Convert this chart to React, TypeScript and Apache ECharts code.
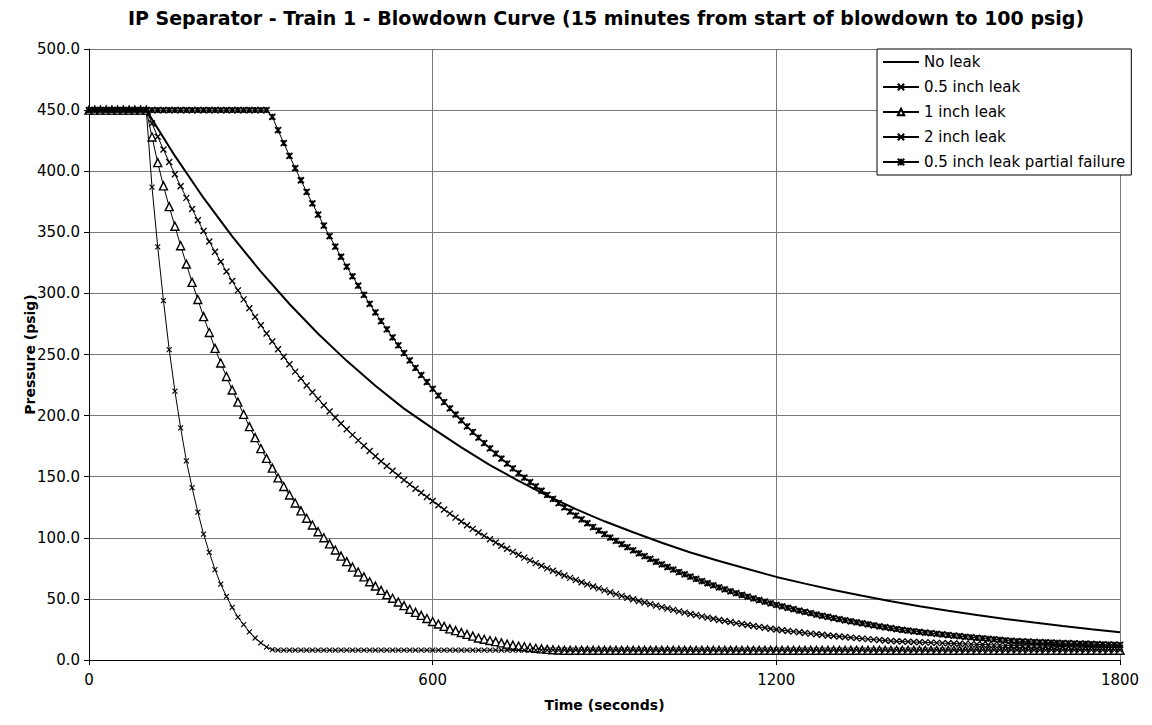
import React, { useEffect, useRef } from "react";
import * as echarts from "echarts";

const TITLE = "IP Separator - Train 1 - Blowdown Curve (15 minutes from start of blowdown to 100 psig)";
const X_NAME = "Time (seconds)";
const Y_NAME = "Pressure (psig)";
const SERIES_NAMES = ["No leak", "0.5 inch leak", "1 inch leak", "2 inch leak", "0.5 inch leak partial failure"];

const X_TICKS = { min: 0, max: 1800, interval: 600 };
const Y_TICKS = { min: 0, max: 500, interval: 50 };

// sample times (seconds) for the marked series
const TIME_S = [
  0, 10, 20, 30, 40, 50, 60, 70, 80, 90,
  100, 110, 120, 130, 140, 150, 160, 170, 180, 190,
  200, 210, 220, 230, 240, 250, 260, 270, 280, 290,
  300, 310, 320, 330, 340, 350, 360, 370, 380, 390,
  400, 410, 420, 430, 440, 450, 460, 470, 480, 490,
  500, 510, 520, 530, 540, 550, 560, 570, 580, 590,
  600, 610, 620, 630, 640, 650, 660, 670, 680, 690,
  700, 710, 720, 730, 740, 750, 760, 770, 780, 790,
  800, 810, 820, 830, 840, 850, 860, 870, 880, 890,
  900, 910, 920, 930, 940, 950, 960, 970, 980, 990,
  1000, 1010, 1020, 1030, 1040, 1050, 1060, 1070, 1080, 1090,
  1100, 1110, 1120, 1130, 1140, 1150, 1160, 1170, 1180, 1190,
  1200, 1210, 1220, 1230, 1240, 1250, 1260, 1270, 1280, 1290,
  1300, 1310, 1320, 1330, 1340, 1350, 1360, 1370, 1380, 1390,
  1400, 1410, 1420, 1430, 1440, 1450, 1460, 1470, 1480, 1490,
  1500, 1510, 1520, 1530, 1540, 1550, 1560, 1570, 1580, 1590,
  1600, 1610, 1620, 1630, 1640, 1650, 1660, 1670, 1680, 1690,
  1700, 1710, 1720, 1730, 1740, 1750, 1760, 1770, 1780, 1790,
  1800,
];

// "No leak" curve, sampled every 50 s
const NO_LEAK_TIME = [
  0, 50, 100, 150, 200, 250, 300, 350, 400, 450,
  500, 550, 600, 650, 700, 750, 800, 850, 900, 950,
  1000, 1050, 1100, 1150, 1200, 1250, 1300, 1350, 1400, 1450,
  1500, 1550, 1600, 1650, 1700, 1750, 1800,
];
const NO_LEAK = [
  450, 450, 450, 412.5, 378.1, 346.6, 317.8, 291.3, 267.0, 244.8,
  224.4, 205.7, 189.5, 174.0, 159.5, 146.5, 134.5, 123.5, 113.5, 104.5,
  96.0, 88.0, 81.0, 74.5, 68.0, 62.5, 57.3, 52.5, 48.0, 44.0,
  40.3, 36.8, 33.6, 30.6, 27.8, 25.2, 22.8,
];

const LEAK_05 = [
  450, 450, 450, 450, 450, 450, 450, 450, 450, 450,
  450, 439.0, 428.2, 417.7, 407.5, 397.5, 387.7, 378.2, 369.0, 359.9,
  351.1, 342.5, 334.1, 325.9, 317.9, 310.1, 302.5, 295.1, 287.9, 280.8,
  273.9, 267.2, 260.7, 254.3, 248.1, 242.0, 236.0, 230.3, 224.6, 219.1,
  213.7, 208.5, 203.4, 198.4, 193.5, 188.8, 184.2, 179.7, 175.3, 171.0,
  166.8, 162.7, 158.7, 154.8, 151.0, 147.3, 143.7, 140.2, 136.8, 133.4,
  130.1, 126.6, 123.1, 119.8, 116.5, 113.4, 110.3, 107.3, 104.4, 101.6,
  98.8, 96.1, 93.5, 91.0, 88.5, 86.1, 83.8, 81.5, 79.3, 77.1,
  75.0, 73.0, 71.0, 69.1, 67.2, 65.4, 63.6, 61.9, 60.2, 58.6,
  57.0, 55.4, 53.9, 52.5, 51.0, 49.7, 48.3, 47.0, 45.7, 44.5,
  43.3, 42.1, 41.0, 39.8, 38.8, 37.7, 36.7, 35.7, 34.7, 33.8,
  32.8, 31.9, 31.1, 30.2, 29.4, 28.6, 27.8, 27.1, 26.4, 25.6,
  24.9, 24.3, 23.8, 23.2, 22.7, 22.1, 21.6, 21.1, 20.6, 20.1,
  19.7, 19.2, 18.8, 18.3, 17.9, 17.5, 17.1, 16.7, 16.3, 15.9,
  15.5, 15.3, 15.1, 14.9, 14.7, 14.5, 14.4, 14.2, 14.0, 13.8,
  13.7, 13.5, 13.3, 13.2, 13.0, 12.8, 12.7, 12.5, 12.4, 12.2,
  12.0, 11.9, 11.8, 11.7, 11.6, 11.5, 11.4, 11.3, 11.2, 11.1,
  11.0, 10.9, 10.8, 10.7, 10.6, 10.5, 10.4, 10.3, 10.2, 10.1,
  10.0,
];

const LEAK_1 = [
  450, 450, 450, 450, 450, 450, 450, 450, 450, 450,
  450, 428, 407, 388, 371, 355, 339, 324, 309, 295,
  281, 268, 255, 243, 232, 221, 211, 201, 191, 182,
  173, 165, 157, 149, 142, 135, 128.5, 122, 116, 110.5,
  105, 100, 95, 90, 85, 80.5, 76, 72, 68, 64,
  60.5, 57, 53.5, 50.5, 47.5, 44.5, 41.5, 39, 36.5, 34,
  31.5, 29.5, 27.5, 25.5, 24, 22.5, 21, 19.5, 18, 17,
  16, 15, 14, 13, 12.2, 11.5, 10.8, 10.2, 9.6, 9.1,
  8.7, 8.4, 8.2, 8, 8, 8, 8, 8, 8, 8,
  8, 8, 8, 8, 8, 8, 8, 8, 8, 8,
  8, 8, 8, 8, 8, 8, 8, 8, 8, 8,
  8, 8, 8, 8, 8, 8, 8, 8, 8, 8,
  8, 8, 8, 8, 8, 8, 8, 8, 8, 8,
  8, 8, 8, 8, 8, 8, 8, 8, 8, 8,
  8, 8, 8, 8, 8, 8, 8, 8, 8, 8,
  8, 8, 8, 8, 8, 8, 8, 8, 8, 8,
  8, 8, 8, 8, 8, 8, 8, 8, 8, 8,
  8, 8, 8, 8, 8, 8, 8, 8, 8, 8,
  8,
];

const LEAK_2 = [
  450, 450, 450, 450, 450, 450, 450, 450, 450, 450,
  450, 387, 338, 294, 254, 220, 190, 163, 141, 121,
  103, 88, 74, 62, 52, 43, 35, 29, 23, 18,
  14, 10.5, 8.5, 8, 8, 8, 8, 8, 8, 8,
  8, 8, 8, 8, 8, 8, 8, 8, 8, 8,
  8, 8, 8, 8, 8, 8, 8, 8, 8, 8,
  8, 8, 8, 8, 8, 8, 8, 8, 8, 8,
  8, 8, 8, 8, 8, 8, 8, 8, 8, 8,
  8, 8, 8, 8, 8, 8, 8, 8, 8, 8,
  8, 8, 8, 8, 8, 8, 8, 8, 8, 8,
  8, 8, 8, 8, 8, 8, 8, 8, 8, 8,
  8, 8, 8, 8, 8, 8, 8, 8, 8, 8,
  8, 8, 8, 8, 8, 8, 8, 8, 8, 8,
  8, 8, 8, 8, 8, 8, 8, 8, 8, 8,
  8, 8, 8, 8, 8, 8, 8, 8, 8, 8,
  8, 8, 8, 8, 8, 8, 8, 8, 8, 8,
  8, 8, 8, 8, 8, 8, 8, 8, 8, 8,
  8, 8, 8, 8, 8, 8, 8, 8, 8, 8,
  8,
];

const LEAK_05_PARTIAL = [
  450, 450, 450, 450, 450, 450, 450, 450, 450, 450,
  450, 450, 450, 450, 450, 450, 450, 450, 450, 450,
  450, 450, 450, 450, 450, 450, 450, 450, 450, 450,
  450, 450, 444.5, 433.6, 423.0, 412.6, 402.5, 392.6, 383.0, 373.6,
  364.5, 355.5, 346.8, 338.3, 330.0, 321.9, 314.0, 306.3, 298.8, 291.5,
  284.4, 277.4, 270.6, 264.0, 257.5, 251.2, 245.1, 239.0, 233.2, 227.5,
  221.9, 216.4, 211.1, 206.0, 200.9, 196.0, 191.2, 186.5, 182.0, 177.5,
  173.2, 168.9, 164.8, 160.7, 156.8, 152.9, 149.2, 145.5, 142.0, 138.5,
  135.1, 131.8, 128.4, 124.9, 121.5, 118.2, 115.0, 111.9, 108.8, 105.9,
  103.0, 100.2, 97.5, 94.8, 92.3, 89.8, 87.3, 85.0, 82.7, 80.4,
  78.2, 76.1, 74.0, 72.0, 70.1, 68.2, 66.3, 64.5, 62.8, 61.1,
  59.4, 57.8, 56.2, 54.7, 53.2, 51.8, 50.4, 49.0, 47.7, 46.4,
  45.1, 43.9, 42.7, 41.6, 40.4, 39.3, 38.3, 37.2, 36.2, 35.3,
  34.3, 33.4, 32.5, 31.7, 30.8, 30.0, 29.2, 28.4, 27.5, 26.8,
  26.0, 25.3, 24.6, 24.1, 23.5, 23.0, 22.4, 21.9, 21.4, 20.9,
  20.4, 19.9, 19.5, 19.0, 18.6, 18.1, 17.7, 17.3, 16.9, 16.5,
  16.1, 15.7, 15.4, 15.2, 15.0, 14.8, 14.6, 14.5, 14.3, 14.1,
  13.9, 13.8, 13.6, 13.4, 13.3, 13.1, 12.9, 12.8, 12.6, 12.5,
  12.3,
];

const X_PATH = "path://M0,0L10,10M10,0L0,10";
const STAR_PATH = "path://M0,0L10,10M10,0L0,10M5,0L5,10";
const FONT = "DejaVu Sans";

function pairs(xs: number[], ys: number[]) {
  return xs.map((x, i) => [x, ys[i]]);
}

export default function App() {
  const ref = useRef<HTMLDivElement>(null);

  useEffect(() => {
    if (!ref.current) return;
    const chart = echarts.init(ref.current, undefined, { renderer: "svg" });

    const markedLine = (name: string, ys: number[], symbol: string, size: number, item: any) => ({
      name,
      type: "line",
      data: pairs(TIME_S, ys),
      symbol,
      symbolSize: size,
      showSymbol: true,
      lineStyle: { color: "#000", width: 1 },
      itemStyle: item,
      emphasis: { disabled: true },
      z: 3,
    });

    chart.setOption({
      animation: false,
      backgroundColor: "#fff",
      graphic: [
        {
          type: "text",
          x: 606,
          y: 8,
          style: {
            text: TITLE,
            textAlign: "center",
            textVerticalAlign: "top",
            fill: "#000",
            font: `bold 19px "${FONT}"`,
          },
        },
      ],
      grid: { left: 89, right: 32, top: 49, bottom: 65, containLabel: false },
      legend: {
        orient: "vertical",
        left: 877,
        top: 49,
        padding: [5, 6, 5, 5],
        itemWidth: 36,
        itemHeight: 8,
        itemGap: 9,
        backgroundColor: "#fff",
        borderColor: "#000",
        borderWidth: 1,
        borderRadius: 0,
        textStyle: { fontFamily: FONT, fontSize: 15, color: "#000", lineHeight: 16 },
        data: [
          { name: SERIES_NAMES[0], itemStyle: { opacity: 0 }, lineStyle: { opacity: 1 } },
          SERIES_NAMES[1],
          SERIES_NAMES[2],
          SERIES_NAMES[3],
          SERIES_NAMES[4],
        ],
      },
      xAxis: {
        type: "value",
        min: X_TICKS.min,
        max: X_TICKS.max,
        interval: X_TICKS.interval,
        name: X_NAME,
        nameLocation: "middle",
        nameGap: 38,
        nameMoveOverlap: false,
        nameTextStyle: { fontFamily: FONT, fontSize: 14, fontWeight: "bold", color: "#000" },
        axisLine: { show: true, lineStyle: { color: "#000", width: 1 } },
        axisTick: { show: true, inside: false, length: 5, lineStyle: { color: "#000" } },
        axisLabel: { fontFamily: FONT, fontSize: 15, color: "#000", margin: 12, formatter: (v: number) => String(v) },
        splitLine: { show: true, lineStyle: { color: "#777", width: 1 } },
      },
      yAxis: {
        type: "value",
        min: Y_TICKS.min,
        max: Y_TICKS.max,
        interval: Y_TICKS.interval,
        name: Y_NAME,
        nameLocation: "middle",
        nameGap: 52,
        nameMoveOverlap: false,
        nameTextStyle: { fontFamily: FONT, fontSize: 14, fontWeight: "bold", color: "#000" },
        axisLine: { show: true, lineStyle: { color: "#000", width: 1 } },
        axisTick: { show: true, inside: false, length: 5, lineStyle: { color: "#000" } },
        axisLabel: {
          fontFamily: FONT,
          fontSize: 15,
          color: "#000",
          margin: 9,
          formatter: (v: number) => v.toFixed(1),
        },
        splitLine: { show: true, lineStyle: { color: "#777", width: 1 } },
      },
      series: [
        {
          name: SERIES_NAMES[0],
          type: "line",
          data: pairs(NO_LEAK_TIME, NO_LEAK),
          symbol: "none",
          smooth: false,
          lineStyle: { color: "#000", width: 2 },
          itemStyle: { color: "#000" },
          emphasis: { disabled: true },
          z: 4,
        },
        markedLine(SERIES_NAMES[1], LEAK_05, X_PATH, 6, { color: "#000", borderColor: "#000", borderWidth: 1.3 }),
        markedLine(SERIES_NAMES[2], LEAK_1, "triangle", 8, { color: "#fff", borderColor: "#000", borderWidth: 1.4 }),
        markedLine(SERIES_NAMES[3], LEAK_2, X_PATH, 5, { color: "#000", borderColor: "#000", borderWidth: 1.1 }),
        markedLine(SERIES_NAMES[4], LEAK_05_PARTIAL, STAR_PATH, 6, { color: "#000", borderColor: "#000", borderWidth: 1.8 }),
      ],
    });

    return () => chart.dispose();
  }, []);

  return (
    <div
      ref={ref}
      style={{ position: "absolute", left: 0, top: 0, width: 1152, height: 725, background: "#fff" }}
    />
  );
}
